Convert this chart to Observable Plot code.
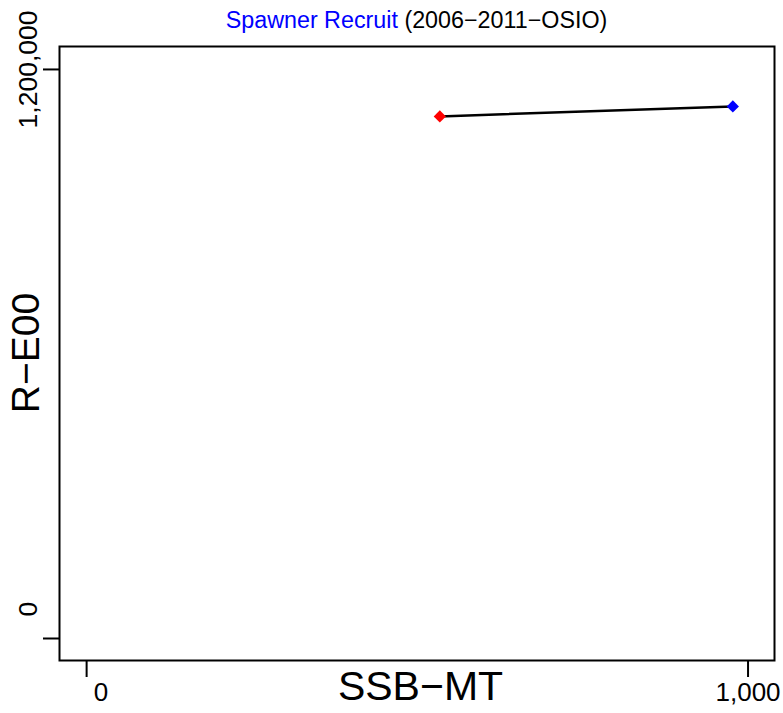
<!DOCTYPE html>
<html><head><meta charset="utf-8">
<script src="https://cdn.jsdelivr.net/npm/d3@7"></script>
<script src="https://cdn.jsdelivr.net/npm/@observablehq/plot@0.6"></script>
<style>
body{margin:0;background:#fff}
svg{font-family:"Liberation Sans",Arial,Helvetica,sans-serif}
</style>
</head><body><div id="chart"></div>
<script>
// Data
const ssb = [534, 977];                 // SSB (MT)
const recruits = [1101000, 1122000];    // Recruits
const pointColors = ["red", "blue"];
const xTicks = [0, 1000];
const xTickLabels = ["    0", "1,000"];
const yTicks = [0, 1200000];
const yTickLabels = ["        0", "1,200,000"];
const titleMain = "Spawner Recruit";
const titleSub = " (2006\u22122011\u2212OSIO)";
const xLabel = "SSB\u2212MT";
const yLabel = "R\u2212E00";

const pts = ssb.map((x, i) => ({x, y: recruits[i], c: pointColors[i]}));
const nb = s => s.replace(/ /g, "\u00A0");

const W = 783, H = 713;
const mL = 59, mT = 46, mR = 9, mB = 53;

const plot = Plot.plot({
  width: W, height: H,
  marginLeft: mL, marginTop: mT, marginRight: mR, marginBottom: mB,
  style: {fontFamily: '"Liberation Sans",Arial,sans-serif', background: "#fff", overflow: "visible"},
  x: {domain: [-41, 1040]},
  y: {domain: [-46400, 1248400]},
  marks: [
    Plot.frame({stroke: "#000", strokeWidth: 2}),
    Plot.axisX({ticks: xTicks, tickSize: 17, tickPadding: 5, fontSize: 26, stroke: "#000", strokeWidth: 2,
      tickFormat: (d) => nb(xTickLabels[xTicks.indexOf(d)]), label: null, color: "#000"}),
    Plot.axisY({ticks: yTicks, tickSize: 16, tickPadding: 7, fontSize: 26.5, stroke: "#000", strokeWidth: 2,
      tickRotate: -90, textAnchor: "middle",
      tickFormat: (d) => nb(yTickLabels[yTicks.indexOf(d)]), label: null, color: "#000"}),
    Plot.line(pts, {x: "x", y: "y", stroke: "#000", strokeWidth: 2.5}),
    Plot.dot(pts, {x: "x", y: "y", fill: "c", symbol: "diamond2", r: 5.5, stroke: null})
  ]
});
document.getElementById("chart").appendChild(plot);

const svg = d3.select(plot);
const t = svg.append("text")
  .attr("x", (mL + W - mR) / 2).attr("y", 28)
  .attr("text-anchor", "middle").attr("font-size", 23.3);
t.append("tspan").attr("fill", "blue").text(titleMain);
t.append("tspan").attr("fill", "#000").text(titleSub);

svg.append("text")
  .attr("x", (mL + W - mR) / 2 + 4).attr("y", 700)
  .attr("text-anchor", "middle").attr("font-size", 41).attr("fill", "#000")
  .text(xLabel);

svg.append("text")
  .attr("transform", `translate(39,${(mT + H - mB) / 2}) rotate(-90)`)
  .attr("text-anchor", "middle").attr("font-size", 39).attr("fill", "#000")
  .text(yLabel);
</script>
</body></html>
